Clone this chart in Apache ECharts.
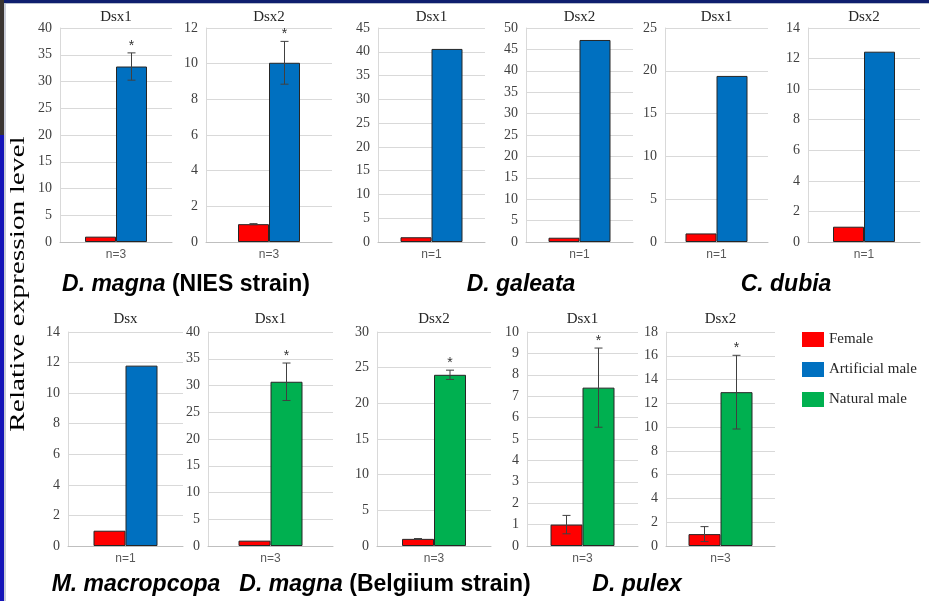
<!DOCTYPE html>
<html>
<head>
<meta charset="utf-8">
<script src="https://cdn.jsdelivr.net/npm/echarts@6/dist/echarts.min.js"></script>
<style>
html,body{margin:0;padding:0;background:#fff;}
#chart{width:929px;height:601px;}
</style>
</head>
<body>
<div id="chart"></div>
<script>
// ---------------- data ----------------
const panelTitles   = ['Dsx1','Dsx2','Dsx1','Dsx2','Dsx1','Dsx2','Dsx','Dsx1','Dsx2','Dsx1','Dsx2'];
const sampleLabels  = ['n=3','n=3','n=1','n=1','n=1','n=1','n=1','n=3','n=3','n=3','n=3'];
const femaleValues  = [1, 1, 1, 1, 1, 1, 1, 1, 1, 1, 1];
const femaleErrors  = [0, 0.03, 0, 0, 0, 0, 0, 0, 0.05, 0.43, 0.63];
const maleValues    = [32.8, 10.05, 40.6, 47.2, 19.4, 12.45, 11.8, 30.7, 24.0, 7.4, 12.94];
const maleErrors    = [2.55, 1.2, 0, 0, 0, 0, 0, 3.5, 0.65, 1.85, 3.1];
const maleGroups    = ['Artificial male','Artificial male','Artificial male','Artificial male','Artificial male','Artificial male','Artificial male','Natural male','Natural male','Natural male','Natural male'];
const significant   = [true, true, false, false, false, false, false, true, true, true, true];
const yMax          = [40, 12, 45, 50, 25, 14, 14, 40, 30, 10, 18];
const yStep         = [5, 2, 5, 5, 5, 2, 2, 5, 5, 1, 2];
const speciesLabels = [
  {italic:'D. magna', rest:' (NIES strain)'},
  {italic:'D. galeata', rest:''},
  {italic:'C. dubia', rest:''},
  {italic:'M. macropcopa', rest:''},
  {italic:'D. magna', rest:' (Belgiium strain)'},
  {italic:'D. pulex', rest:''}
];
const legendNames = ['Female','Artificial male','Natural male'];
const yAxisTitle = 'Relative expression level';

// ---------------- layout / style ----------------
const colors = {'Female':'#FF0000','Artificial male':'#0070C0','Natural male':'#00B050'};
// [left, right, top, bottom] of each plot area
const boxes = [
  [60,172,28,242],[206,332,28,242],[378,485,28,242],[526,633,28,242],[665,768,28,242],[808,920,28,242],
  [68,183,332,546],[208,333,332,546],[377,491,332,546],[527,638,332,546],[666,775,332,546]
];
const speciesPos = [[186,285],[521,285],[786,285],[136,585],[385,585],[637,585]];
const serif = 'Liberation Serif, Times New Roman, serif';
const sans = 'Liberation Sans, Arial, sans-serif';

const grid = [], xAxis = [], yAxis = [], series = [], graphic = [];

boxes.forEach((b, i) => {
  const bw = i < 6 ? 31 : 32;
  grid.push({left:b[0], top:b[2], width:b[1]-b[0], height:b[3]-b[2]});
  xAxis.push({
    type:'category', gridIndex:i, data:[sampleLabels[i]],
    axisLine:{show:true, lineStyle:{color:'#bfbfbf', width:1}},
    axisTick:{show:false},
    axisLabel:{color:'#595959', fontFamily:sans, fontSize:12, margin:7}
  });
  yAxis.push({
    type:'value', gridIndex:i, min:0, max:yMax[i], interval:yStep[i],
    axisLine:{show:true, lineStyle:{color:'#d9d9d9', width:1}},
    axisTick:{show:false},
    splitLine:{show:true, lineStyle:{color:'#d9d9d9', width:1}},
    axisLabel:{color:'#404040', fontFamily:serif, fontSize:14, margin:8}
  });
  series.push({
    type:'bar', name:'Female', xAxisIndex:i, yAxisIndex:i,
    data:[femaleValues[i]], barWidth:bw, barGap:'0%',
    itemStyle:{color:colors['Female'], borderColor:'#262626', borderWidth:1},
    silent:true
  });
  series.push({
    type:'bar', name:maleGroups[i], xAxisIndex:i, yAxisIndex:i,
    data:[maleValues[i]], barWidth:bw, barGap:'0%',
    itemStyle:{color:colors[maleGroups[i]], borderColor:'#262626', borderWidth:1},
    silent:true
  });
  series.push({
    type:'custom', xAxisIndex:i, yAxisIndex:i, silent:true, z:5,
    data:[
      [0, femaleValues[i]-femaleErrors[i], femaleValues[i]+femaleErrors[i], -1, 0, femaleErrors[i]],
      [0, maleValues[i]-maleErrors[i], maleValues[i]+maleErrors[i], 1, significant[i]?1:0, maleErrors[i]]
    ],
    renderItem:(params, api) => {
      const side = api.value(3);
      const off = side * bw / 2;
      const lo = api.coord([api.value(0), api.value(1)]);
      const hi = api.coord([api.value(0), api.value(2)]);
      const x = lo[0] + off;
      const children = [];
      if (api.value(5) > 0) {
        const st = {stroke:'#404040', lineWidth:1};
        children.push({type:'line', shape:{x1:x, y1:lo[1], x2:x, y2:hi[1]}, style:st});
        children.push({type:'line', shape:{x1:x-4, y1:hi[1], x2:x+4, y2:hi[1]}, style:st});
        children.push({type:'line', shape:{x1:x-4, y1:lo[1], x2:x+4, y2:lo[1]}, style:st});
      }
      if (api.value(4) > 0) {
        children.push({type:'text', style:{text:'*', x:x, y:hi[1]-7, textAlign:'center', textVerticalAlign:'middle', font:'14px ' + sans, fill:'#333'}});
      }
      return {type:'group', children:children};
    }
  });
  graphic.push({
    type:'text', silent:true,
    style:{text:panelTitles[i], x:(b[0]+b[1])/2, y:(i<6?17.5:319), textAlign:'center', textVerticalAlign:'middle', font:'15px ' + serif, fill:'#262626'}
  });
});

speciesLabels.forEach((s, k) => {
  graphic.push({
    type:'text', silent:true,
    style:{
      text:'{i|' + s.italic + '}' + (s.rest ? '{b|' + s.rest + '}' : ''),
      x:speciesPos[k][0], y:speciesPos[k][1], textAlign:'center', textVerticalAlign:'middle',
      rich:{
        i:{fontStyle:'italic', fontWeight:'bold', fontSize:23, fontFamily:sans, fill:'#000'},
        b:{fontWeight:'bold', fontSize:23, fontFamily:sans, fill:'#000'}
      }
    }
  });
});

// y-axis title (stretched like the original)
graphic.push({
  type:'text', silent:true, x:18, y:284, rotation:Math.PI/2, scaleX:1.4,
  style:{text:yAxisTitle, x:0, y:0, textAlign:'center', textVerticalAlign:'middle', font:'21px ' + serif, fill:'#000'}
});

// slide frame
graphic.push({type:'rect', silent:true, z:100, shape:{x:0, y:0, width:929, height:3}, style:{fill:'#0f1f6e'}});
graphic.push({type:'rect', silent:true, z:100, shape:{x:0, y:3, width:929, height:1}, style:{fill:'#b8bfd0'}});
graphic.push({type:'rect', silent:true, z:100, shape:{x:0, y:0, width:4, height:135}, style:{fill:'#3a3532'}});
graphic.push({type:'rect', silent:true, z:100, shape:{x:0, y:135, width:4, height:466}, style:{fill:'#1414b8'}});
graphic.push({type:'rect', silent:true, z:100, shape:{x:4, y:4, width:2, height:597}, style:{fill:'#c9cdd8'}});

const chart = echarts.init(document.getElementById('chart'), null, {renderer:'canvas'});
chart.setOption({
  animation:false,
  backgroundColor:'#ffffff',
  grid, xAxis, yAxis, series, graphic,
  legend:{
    data:legendNames.map(n => ({name:n, itemStyle:{color:colors[n], borderWidth:0}})),
    orient:'vertical', left:802, top:332, padding:0, icon:'rect',
    itemWidth:22, itemHeight:15, itemGap:15,
    textStyle:{fontFamily:serif, fontSize:15, color:'#262626', padding:[0,0,0,0]},
    selectedMode:false
  }
});
</script>
</body>
</html>
